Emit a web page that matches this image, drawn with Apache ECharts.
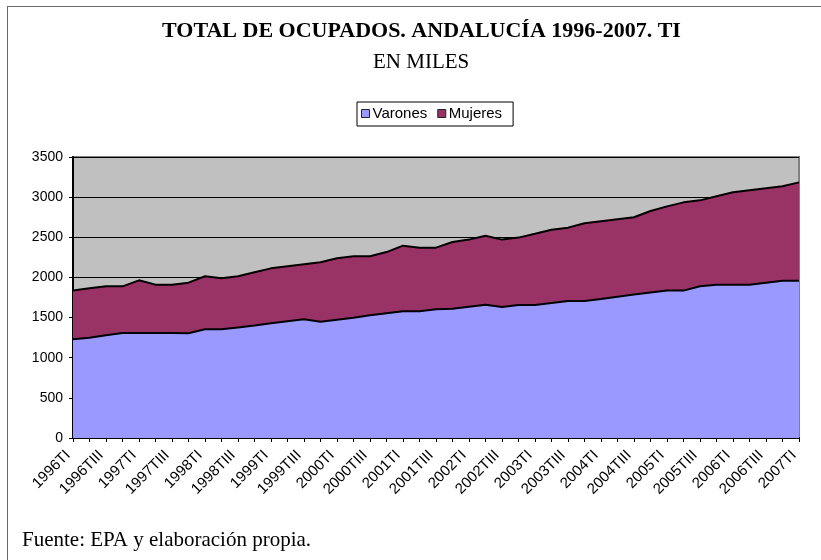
<!DOCTYPE html>
<html>
<head>
<meta charset="utf-8">
<script src="https://cdn.jsdelivr.net/npm/echarts@6/dist/echarts.min.js"></script>
<style>
    html, body { margin: 0; padding: 0; background: #fff; overflow: hidden; }
    #chart { position: absolute; left: 0; top: 0; width: 821px; height: 560px; }
    #frame {
        position: absolute; left: 7px; top: 6px; width: 830px; height: 570px;
        border-left: 1px solid #6a6a6a; border-top: 1px solid #6a6a6a;
        pointer-events: none;
    }
</style>
</head>
<body>
<div id="chart"></div>
<div id="frame"></div>
<script>
// trimestres 1996TI .. 2007TI
const quarters = [
    '1996TI', '1996TII', '1996TIII', '1996TIV',
    '1997TI', '1997TII', '1997TIII', '1997TIV',
    '1998TI', '1998TII', '1998TIII', '1998TIV',
    '1999TI', '1999TII', '1999TIII', '1999TIV',
    '2000TI', '2000TII', '2000TIII', '2000TIV',
    '2001TI', '2001TII', '2001TIII', '2001TIV',
    '2002TI', '2002TII', '2002TIII', '2002TIV',
    '2003TI', '2003TII', '2003TIII', '2003TIV',
    '2004TI', '2004TII', '2004TIII', '2004TIV',
    '2005TI', '2005TII', '2005TIII', '2005TIV',
    '2006TI', '2006TII', '2006TIII', '2006TIV',
    '2007TI'
]

// miles de ocupados
const varones = [
    1230, 1250, 1279, 1308, 1308, 1308, 1308, 1305, 1354, 1354,
    1375, 1400, 1428, 1453, 1478, 1449, 1474, 1499, 1528, 1553,
    1578, 1578, 1603, 1611, 1636, 1661, 1632, 1657, 1657, 1681,
    1706, 1706, 1731, 1760, 1786, 1811, 1836, 1836, 1889, 1910,
    1910, 1910, 1935, 1960, 1960
]
const mujeres = [
    606, 614, 610, 581, 656, 602, 602, 630, 660, 635,
    639, 664, 685, 685, 685, 739, 764, 764, 735, 763,
    818, 793, 768, 830, 835, 859, 839, 839, 888, 914,
    914, 968, 968, 964, 963, 1016, 1049, 1099, 1071, 1100,
    1150, 1175, 1175, 1175, 1224
]

const yTicks = [0, 500, 1000, 1500, 2000, 2500, 3000, 3500]

const chart = echarts.init(document.getElementById('chart'))

const option = {
    backgroundColor: '#fff',
    animation: false,
    title: [
        {
            text: 'TOTAL DE OCUPADOS. ANDALUCÍA 1996-2007. TI',
            left: 157, top: 15,
            textStyle: { fontFamily: 'Liberation Serif', fontSize: 22, fontWeight: 'bold', color: '#000' }
        },
        {
            text: 'EN MILES',
            left: 368, top: 47,
            textStyle: { fontFamily: 'Liberation Serif', fontSize: 21, fontWeight: 'normal', color: '#000' }
        },
        {
            text: 'Fuente: EPA y elaboración propia.',
            left: 17, top: 525,
            textStyle: { fontFamily: 'Liberation Serif', fontSize: 21, fontWeight: 'normal', color: '#000' }
        }
    ],
    legend: {
        data: ['Varones', 'Mujeres'],
        left: 357, top: 102,
        icon: 'rect',
        itemWidth: 8, itemHeight: 8, itemGap: 10,
        padding: [4, 11, 5, 4],
        borderColor: '#000', borderWidth: 1,
        itemStyle: { borderColor: '#222', borderWidth: 1 },
        textStyle: { fontFamily: 'Liberation Sans', fontSize: 15, color: '#000', padding: [0, 0, 0, -2] }
    },
    grid: {
        left: 73, right: 22, top: 157, bottom: 122,
        show: true, backgroundColor: '#c0c0c0', borderColor: '#808080', borderWidth: 2
    },
    xAxis: {
        type: 'category',
        data: quarters,
        boundaryGap: false,
        axisLine: { lineStyle: { color: '#000', width: 2 } },
        axisTick: { interval: 0, length: 4, lineStyle: { color: '#000' } },
        axisLabel: {
            interval: 1, rotate: 45, margin: 10,
            padding: [0, 7, 0, 0],
            fontFamily: 'Liberation Sans', fontSize: 15, color: '#000'
        },
        splitLine: { show: false }
    },
    yAxis: {
        type: 'value',
        min: yTicks[0], max: yTicks[yTicks.length - 1], interval: 500,
        axisLine: { show: true, lineStyle: { color: '#000', width: 2 } },
        axisTick: { show: true, length: 4, lineStyle: { color: '#000' } },
        axisLabel: {
            fontFamily: 'Liberation Sans', fontSize: 14, color: '#000', margin: 10,
            formatter: v => String(v)
        },
        splitLine: { lineStyle: { color: '#000', width: 1 } }
    },
    series: [
        {
            name: 'Varones',
            type: 'line',
            stack: 'total',
            data: varones,
            color: '#9999ff',
            symbol: 'none',
            lineStyle: { color: '#000', width: 2 },
            areaStyle: { color: '#9999ff', opacity: 1 }
        },
        {
            name: 'Mujeres',
            type: 'line',
            stack: 'total',
            data: mujeres,
            color: '#993366',
            symbol: 'none',
            lineStyle: { color: '#000', width: 2 },
            areaStyle: { color: '#993366', opacity: 1 }
        }
    ]
}

chart.setOption(option)
</script>
</body>
</html>
